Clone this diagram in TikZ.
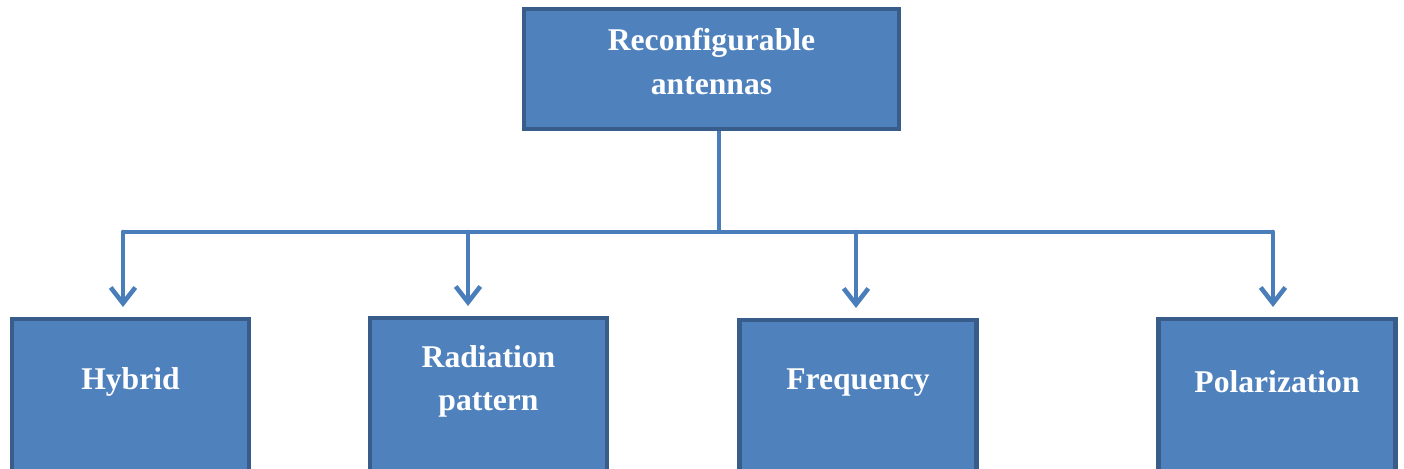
\documentclass[tikz,border=0pt]{standalone}
\usepackage{fontspec}
\setmainfont{Liberation Serif}
\usetikzlibrary{arrows.meta, positioning}
\definecolor{boxfill}{HTML}{4F81BD}
\definecolor{boxline}{HTML}{385D8A}
\definecolor{linkblue}{HTML}{4A7EBB}
\tikzstyle{topbox} = [rectangle, draw=boxline, fill=boxfill, line width=2.3pt, minimum width=7.5cm,
                      minimum height=2.4cm]
\tikzstyle{toptext} = [anchor=center, yshift=0.15cm, text=white, align=center,
                       font=\fontsize{18}{24.5}\selectfont\bfseries]
\tikzstyle{leaf} = [rectangle, draw=boxline, fill=boxfill, line width=2.3pt, minimum width=4.74cm,
                    minimum height=4cm, anchor=north]
\tikzstyle{leaftext} = [anchor=center, yshift=-1.3cm, text=white, align=center,
                        font=\fontsize{18}{24.5}\selectfont\bfseries]
\tikzstyle{link} = [draw=linkblue, line width=2.6pt]
\tikzstyle{drop} = [link, line cap=round, -{Straight Barb[length=9pt, width=14pt]}]

\begin{document}
\begin{tikzpicture}
				\clip (0, 0) rectangle (28.08, -9.38);

				\node (Top) [topbox, label={[toptext]center:{Reconfigurable\\antennas}}] at (14.23, -1.38) {};

				% the bus
				\coordinate (Split) at (14.38, -4.64);
				\draw [link] (Top.south -| Split) -- (Split);
				\coordinate (BusL) at (2.46, -4.64);
				\coordinate (BusR) at (25.46, -4.64);
				\draw [link] (BusL) -- (BusR);

				% the four kinds
				\node (Hybrid) [leaf, label={[leaftext]north:Hybrid}] at (2.61, -6.34) {};
				\node (Pattern) [leaf, label={[leaftext]north:{Radiation\\pattern}}] at (9.77, -6.32) {};
				\node (Freq) [leaf, label={[leaftext]north:Frequency}] at (17.16, -6.36) {};
				\node (Polar) [leaf, label={[leaftext]north:Polarization}] at (25.54, -6.34) {};

				\coordinate (Drop1) at (2.46, -4.64);
				\coordinate (Drop2) at (9.36, -4.64);
				\coordinate (Drop3) at (17.12, -4.64);
				\coordinate (Drop4) at (25.46, -4.64);
				\draw [drop] (Drop1) -- ([yshift=0.2cm]Hybrid.north -| Drop1);
				\draw [drop] (Drop2) -- ([yshift=0.2cm]Pattern.north -| Drop2);
				\draw [drop] (Drop3) -- ([yshift=0.2cm]Freq.north -| Drop3);
				\draw [drop] (Drop4) -- ([yshift=0.2cm]Polar.north -| Drop4);
			\end{tikzpicture}
\end{document}
